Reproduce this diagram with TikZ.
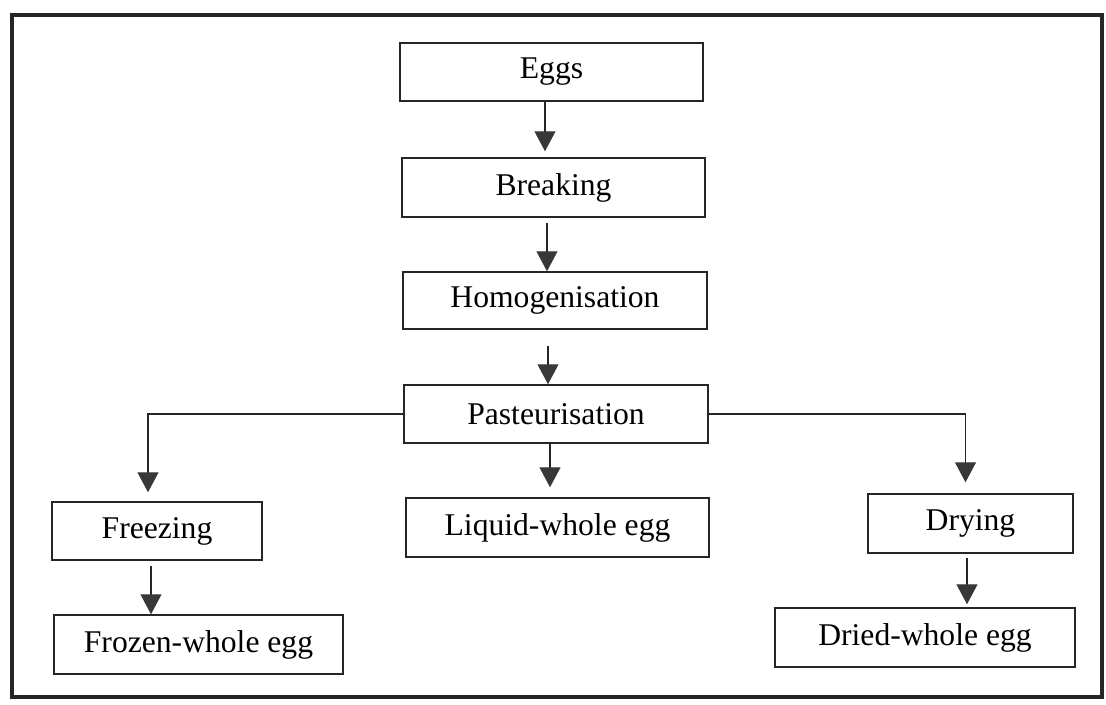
\documentclass[tikz,border=0pt]{standalone}
\usepackage{fontspec}
\setmainfont{Liberation Serif}
\usetikzlibrary{arrows.meta}

\tikzset{
  stage/.style = {draw=black!85, line width=0.03cm, inner sep=0pt, anchor=center,
                  font=\fontsize{18}{22}\selectfont},
  flow/.style  = {draw=black!85, line width=0.025cm,
                  -{Triangle[width=0.42cm, length=0.4cm, fill=black!78, color=black!78]}}
}

\begin{document}
\begin{tikzpicture}[x=0.02cm, y=-0.02cm]
\useasboundingbox (0,0) rectangle (1106,705);
\draw[line width=0.09cm, black!85] (12,15) rectangle (1102,697);
% process chain
\node[stage, minimum width=6.06cm, minimum height=1.16cm] (eggs) at (551.5,72) {Eggs};
\node[stage, minimum width=6.06cm, minimum height=1.18cm] (breaking) at (553.5,187.5) {Breaking};
\node[stage, minimum width=6.08cm, minimum height=1.14cm] (homog) at (555,300.5) {Homogenisation};
\node[stage, minimum width=6.08cm, minimum height=1.16cm] (past) at (556,414) {Pasteurisation};
% products
\node[stage, minimum width=4.2cm, minimum height=1.16cm] (freezing) at (157,531) {Freezing};
\node[stage, minimum width=6.06cm, minimum height=1.18cm] (liquid) at (557.5,527.5) {Liquid-whole egg};
\node[stage, minimum width=4.1cm, minimum height=1.18cm] (drying) at (970.5,523.5) {Drying};
\node[stage, minimum width=5.78cm, minimum height=1.18cm] (frozen) at (198.5,644.5) {Frozen-whole egg};
\node[stage, minimum width=6cm, minimum height=1.18cm] (dried) at (925,637.5) {Dried-whole egg};

\draw[flow, shorten >=0.12cm] ([xshift=-0.13cm]eggs.south) -- ([xshift=-0.13cm]eggs.south |- breaking.north);
\draw[flow, shorten <=0.1cm] ([xshift=-0.13cm]breaking.south) -- ([xshift=-0.13cm]breaking.south |- homog.north);
\draw[flow, shorten <=0.32cm] ([xshift=-0.14cm]homog.south) -- ([xshift=-0.14cm]homog.south |- past.north);
\draw[flow, shorten >=0.2cm] ([xshift=-0.12cm]past.south) -- ([xshift=-0.12cm]past.south |- liquid.north);
\draw[flow, shorten >=0.18cm] (past.west) -| ([xshift=-0.18cm]freezing.north);
\draw[flow, shorten >=0.22cm] (past.east) -| ([xshift=-0.1cm]drying.north);
\draw[flow, shorten <=0.1cm] ([xshift=-0.12cm]freezing.south) -- ([xshift=-0.12cm]freezing.south |- frozen.north);
\draw[flow, shorten <=0.08cm, shorten >=0.06cm] ([xshift=-0.07cm]drying.south) -- ([xshift=-0.07cm]drying.south |- dried.north);
\end{tikzpicture}
\end{document}
